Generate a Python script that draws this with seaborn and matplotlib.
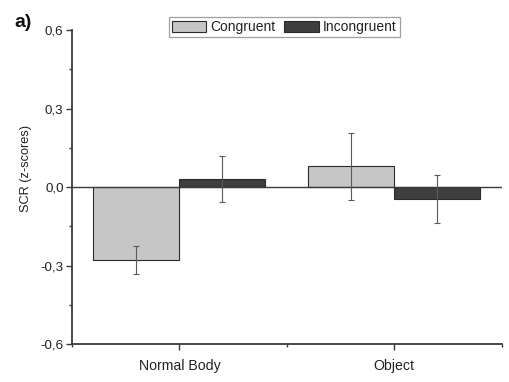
import matplotlib
matplotlib.use("Agg")
import matplotlib.pyplot as plt
import numpy as np
import pandas as pd
import seaborn as sns
from matplotlib.ticker import FixedLocator, FuncFormatter


categories = ["Normal Body", "Object"]
conditions = ["Congruent", "Incongruent"]
congruent_means = [-0.28, 0.080]
incongruent_means = [0.031, -0.045]
congruent_errs = [0.053, 0.128]
incongruent_errs = [0.089, 0.091]

bar_colors = ["#c6c6c6", "#3e3e3e"]
axis_color = "#3a3a3a"


def comma_fmt(v, pos):
    if abs(v) < 1e-9:
        return "0,0"
    return f"{v:.1f}".replace(".", ",")


def main():
    sns.set_style("white")
    plt.rcParams["font.family"] = ["Liberation Sans", "DejaVu Sans"]

    df = pd.DataFrame({
        "category": categories * 2,
        "condition": [conditions[0]] * 2 + [conditions[1]] * 2,
        "scr": congruent_means + incongruent_means,
    })

    fig = plt.figure(figsize=(5.1, 3.82), dpi=100)
    ax = fig.add_axes([0.141, 0.0995, 0.843, 0.8215])

    sns.barplot(data=df, x="category", y="scr", hue="condition", order=categories,
                hue_order=conditions, palette=bar_colors, errorbar=None, width=0.8,
                edgecolor="#2a2a2a", linewidth=0.8, ax=ax)

    # error bars at the end of each drawn bar
    for container, errs in zip(ax.containers, [congruent_errs, incongruent_errs]):
        for bar, err in zip(container, errs):
            xc = bar.get_x() + bar.get_width() / 2
            yv = bar.get_y() + bar.get_height()
            ax.errorbar(xc, yv, yerr=err, color="#5a5a5a", elinewidth=0.8,
                        capsize=2.2, capthick=0.8, zorder=5)

    ax.axhline(0, color=axis_color, lw=1.0, zorder=4)

    ax.set_xlim(-0.5, 1.5)
    ax.set_ylim(-0.6, 0.6)
    ax.set_yticks([-0.6, -0.3, 0.0, 0.3, 0.6])
    ax.yaxis.set_minor_locator(FixedLocator([-0.45, -0.15, 0.15, 0.45]))
    ax.yaxis.set_major_formatter(FuncFormatter(comma_fmt))
    ax.xaxis.set_minor_locator(FixedLocator([-0.5, 0.5, 1.5]))

    ax.set_xlabel("")
    ax.set_ylabel("SCR (z-scores)", fontsize=9.2, color="#222222")
    ax.yaxis.set_label_coords(-0.093, 0.56)

    for side in ["top", "right"]:
        ax.spines[side].set_visible(False)
    for side in ["left", "bottom"]:
        ax.spines[side].set_color(axis_color)
        ax.spines[side].set_linewidth(1.3)

    ax.tick_params(axis="both", which="major", direction="out", length=4, width=1.0,
                   color=axis_color, bottom=True, left=True)
    ax.tick_params(axis="both", which="minor", direction="out", length=2.5, width=1.0,
                   color=axis_color, bottom=True, left=True)
    ax.tick_params(axis="y", labelsize=9.6, labelcolor="#222222", pad=2)
    ax.tick_params(axis="x", labelsize=10.2, labelcolor="#222222", pad=7)

    leg = ax.legend(loc="upper center", bbox_to_anchor=(0.557, 0.955),
                    bbox_transform=fig.transFigure, ncol=2, fontsize=10,
                    frameon=True, fancybox=False, handlelength=2.5, handleheight=0.9,
                    handletextpad=0.3, columnspacing=0.6, borderpad=0.22,
                    borderaxespad=0)
    leg.get_frame().set_edgecolor("#888888")
    leg.get_frame().set_linewidth(0.9)
    for t in leg.get_texts():
        t.set_color("#222222")

    fig.text(0.028, 0.93, "a)", fontsize=14, fontweight="bold", color="#111111")

    fig.savefig("out.png", dpi=100)


if __name__ == "__main__":
    main()
